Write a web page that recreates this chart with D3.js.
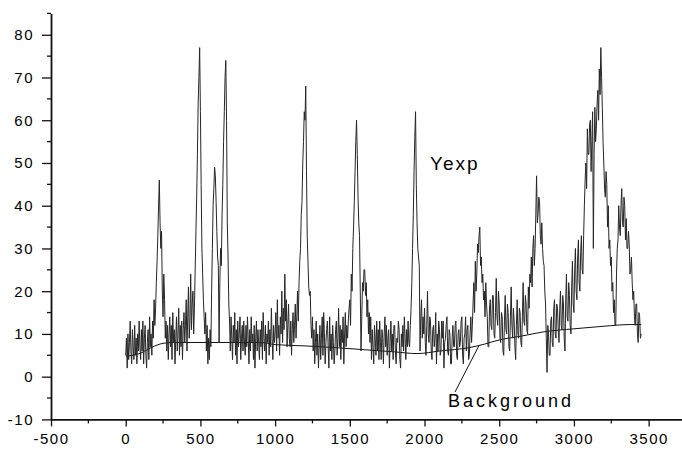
<!DOCTYPE html>
<html>
<head>
<meta charset="utf-8">
<script src="https://cdn.jsdelivr.net/npm/d3@7"></script>
<style>
  body { margin: 0; background: #fff; }
  svg text { font-family: "Liberation Sans", Arial, sans-serif; fill: #000; }
</style>
</head>
<body>
<svg id="chart" width="682" height="450"></svg>
<script>
// ticks
const xTicks = [-500, 0, 500, 1000, 1500, 2000, 2500, 3000, 3500];
const xMinor = [-250, 250, 750, 1250, 1750, 2250, 2750, 3250];
const yTicks = [-10, 0, 10, 20, 30, 40, 50, 60, 70, 80];
const yMinor = [-5, 5, 15, 25, 35, 45, 55, 65, 75, 85];

// measured intensity (Yexp), one value every 5 channels from 0 to 3450
const yexp = [
  5, 9, 2, 10, 4, 8, 13, 6, 3, 11, 7, 4, 12, 5, 9, 3, 10, 6, 13, 7,
  4, 11, 6, 13, 3, 9, 12, 5, 2, 8, 11, 4, 14, 7, 10, 5, 13, 9, 18, 12,
  16, 22, 27, 33, 40, 46, 36, 30, 34, 20, 14, 24, 18, 9, 13, 6, 12, 4, 10, 14,
  7, 12, 4, 15, 8, 11, 3, 9, 14, 6, 10, 16, 5, 12, 7, 13, 4, 11, 15, 8,
  12, 18, 6, 14, 21, 9, 13, 24, 11, 17, 20, 10, 16, 25, 34, 42, 52, 64, 70, 77,
  62, 45, 30, 24, 18, 14, 10, 15, 6, 12, 3, 9, 4, 11, 7, 20, 30, 40, 44, 49,
  47, 41, 34, 28, 26, 8, 22, 30, 26, 38, 45, 55, 62, 70, 74, 60, 36, 28, 17, 13,
  6, 14, 9, 4, 12, 8, 15, 5, 11, 3, 13, 7, 10, 14, 4, 9, 12, 6, 13, 8,
  5, 12, 7, 14, 9, 3, 11, 6, 14, 8, 10, 4, 12, 2, 9, 13, 6, 11, 8, 4,
  11, 7, 13, 4, 15, 9, 6, 12, 3, 10, 8, 13, 5, 11, 7, 16, 9, 4, 12, 8,
  10, 15, 6, 18, 9, 12, 5, 14, 10, 20, 8, 16, 11, 24, 13, 18, 7, 12, 17, 9,
  7, 13, 5, 11, 15, 8, 12, 17, 9, 14, 20, 13, 22, 27, 30, 38, 41, 50, 55, 62,
  60, 68, 48, 33, 27, 21, 19, 20, 12, 9, 14, 6, 11, 3, 8, 13, 5, 10, 2, 7,
  12, 4, 9, 14, 5, 15, 10, 3, 8, 11, 13, 7, 2, 14, 6, 10, 4, 12, 8, 3,
  6, 11, 13, 5, 9, 16, 7, 12, 4, 11, 8, 14, 3, 10, 15, 7, 12, 9, 13, 16,
  18, 12, 24, 20, 30, 35, 41, 48, 55, 60, 52, 42, 36, 33, 20, 6, 14, 22, 20, 25,
  25, 19, 22, 14, 18, 10, 15, 8, 14, 4, 11, 7, 3, 12, 9, 5, 13, 6, 11, 4,
  13, 8, 4, 11, 9, 3, 10, 14, 7, 12, 5, 9, 11, 2, 8, 13, 6, 10, 4, 12,
  12, 6, 3, 9, 8, 13, 11, 4, 2, 10, 7, 12, 6, 14, 9, 4, 11, 7, 13, 8,
  7, 12, 16, 22, 30, 38, 48, 56, 62, 45, 36, 30, 28, 26, 6, 14, 18, 9, 14, 10,
  16, 8, 5, 12, 20, 10, 8, 14, 13, 6, 4, 11, 12, 7, 9, 15, 3, 10, 6, 13,
  11, 5, 6, 13, 9, 13, 2, 8, 9, 12, 14, 6, 5, 11, 10, 3, 3, 9, 12, 7,
  7, 12, 13, 5, 4, 10, 11, 7, 8, 13, 14, 5, 3, 9, 10, 14, 6, 11, 12, 4,
  5, 10, 14, 8, 12, 17, 22, 15, 27, 20, 24, 31, 29, 33, 35, 26, 28, 22, 24, 18,
  20, 14, 22, 17, 14, 7, 7, 16, 18, 12, 11, 19, 19, 10, 9, 15, 23, 14, 12, 20,
  17, 9, 8, 15, 14, 6, 5, 13, 19, 11, 10, 17, 15, 7, 6, 14, 21, 12, 9, 16,
  13, 7, 4, 12, 18, 10, 9, 16, 15, 8, 7, 14, 22, 13, 12, 19, 17, 11, 10, 21,
  16, 24, 22, 28, 21, 30, 33, 26, 30, 38, 47, 36, 38, 42, 41, 33, 31, 36, 30, 27,
  26, 20, 17, 9, 1, 12, 10, 5, 5, 13, 14, 8, 7, 16, 18, 10, 9, 17, 16, 11,
  8, 16, 20, 12, 11, 19, 17, 9, 6, 18, 24, 14, 13, 22, 19, 12, 10, 21, 27, 17,
  15, 25, 30, 20, 18, 28, 32, 22, 20, 29, 33, 25, 24, 33, 40, 46, 50, 44, 58, 52,
  52, 59, 60, 48, 55, 62, 30, 52, 63, 55, 58, 64, 67, 60, 72, 66, 77, 70, 63, 55,
  50, 44, 42, 48, 45, 35, 40, 30, 32, 26, 28, 20, 22, 15, 18, 12, 12, 24, 30, 32,
  40, 35, 33, 40, 44, 36, 35, 42, 40, 32, 37, 30, 30, 34, 31, 24, 25, 28, 22, 18,
  20, 14, 12, 17, 17, 10, 8, 15, 14, 9, 10
];
const channels = d3.range(0, 3451, 5);

// background curve
const bgX = [0, 100, 170, 250, 320, 900, 1000, 1200, 1400, 1600, 1800, 1950, 2100, 2300, 2400, 2500, 2650, 2800, 3000, 3200, 3380, 3450];
const bgY = [4.8, 5.5, 6.8, 7.8, 8.0, 8.0, 7.5, 7.2, 6.8, 6.3, 5.8, 5.4, 6.0, 6.8, 7.6, 8.6, 9.5, 10.5, 11.2, 11.8, 12.2, 12.2];

const svg = d3.select("#chart");

const x = d3.scaleLinear().domain([-500, 3720]).range([51, 681.5]);
const y = d3.scaleLinear().domain([-10, 85]).range([419.4, 13.4]);

// background
const bgLine = d3.line().x(d => x(d[0])).y(d => y(d[1])).curve(d3.curveMonotoneX);
svg.append("path")
  .attr("d", bgLine(d3.zip(bgX, bgY)))
  .attr("fill", "none")
  .attr("stroke", "#111")
  .attr("stroke-width", 1);

// data trace
const line = d3.line().x(d => x(d[0])).y(d => y(d[1]));
svg.append("path")
  .attr("d", line(d3.zip(channels, yexp)))
  .attr("fill", "none")
  .attr("stroke", "#262626")
  .attr("stroke-width", 1);

// axes
const fmt = d => String(d);
const xAxis = svg.append("g")
  .attr("transform", `translate(0,${y(-10)})`)
  .call(d3.axisBottom(x).tickValues(xTicks).tickFormat(fmt).tickSize(7).tickSizeOuter(0).tickPadding(7));
xAxis.append("g").selectAll("line").data(xMinor).join("line")
  .attr("x1", d => x(d)).attr("x2", d => x(d))
  .attr("y1", 0).attr("y2", 4)
  .attr("stroke", "#111").attr("stroke-width", 1.3);

const yAxis = svg.append("g")
  .attr("transform", `translate(${x(-500)},0)`)
  .call(d3.axisLeft(y).tickValues(yTicks).tickFormat(fmt).tickSize(9).tickSizeOuter(0).tickPadding(8));
yAxis.append("g").selectAll("line").data(yMinor).join("line")
  .attr("x1", 0).attr("x2", -4)
  .attr("y1", d => y(d)).attr("y2", d => y(d))
  .attr("stroke", "#111").attr("stroke-width", 1.3);

svg.selectAll(".domain").attr("stroke", "#111").attr("stroke-width", 1.8);
svg.selectAll(".tick line").attr("stroke", "#111").attr("stroke-width", 1.3);
svg.selectAll(".tick text")
  .attr("font-size", 15)
  .attr("letter-spacing", "1.5px")
  .attr("font-family", "'Liberation Sans', Arial, sans-serif")
  .attr("fill", "#000");

// labels
svg.append("text")
  .attr("x", 430).attr("y", 170)
  .attr("font-size", 19)
  .attr("letter-spacing", "2px")
  .text("Yexp");

svg.append("line")
  .attr("x1", 455).attr("y1", 392)
  .attr("x2", x(2365)).attr("y2", y(7.3))
  .attr("stroke", "#111").attr("stroke-width", 1);

svg.append("text")
  .attr("x", 448).attr("y", 407)
  .attr("font-size", 18)
  .attr("letter-spacing", "3px")
  .text("Background");
</script>
</body>
</html>
